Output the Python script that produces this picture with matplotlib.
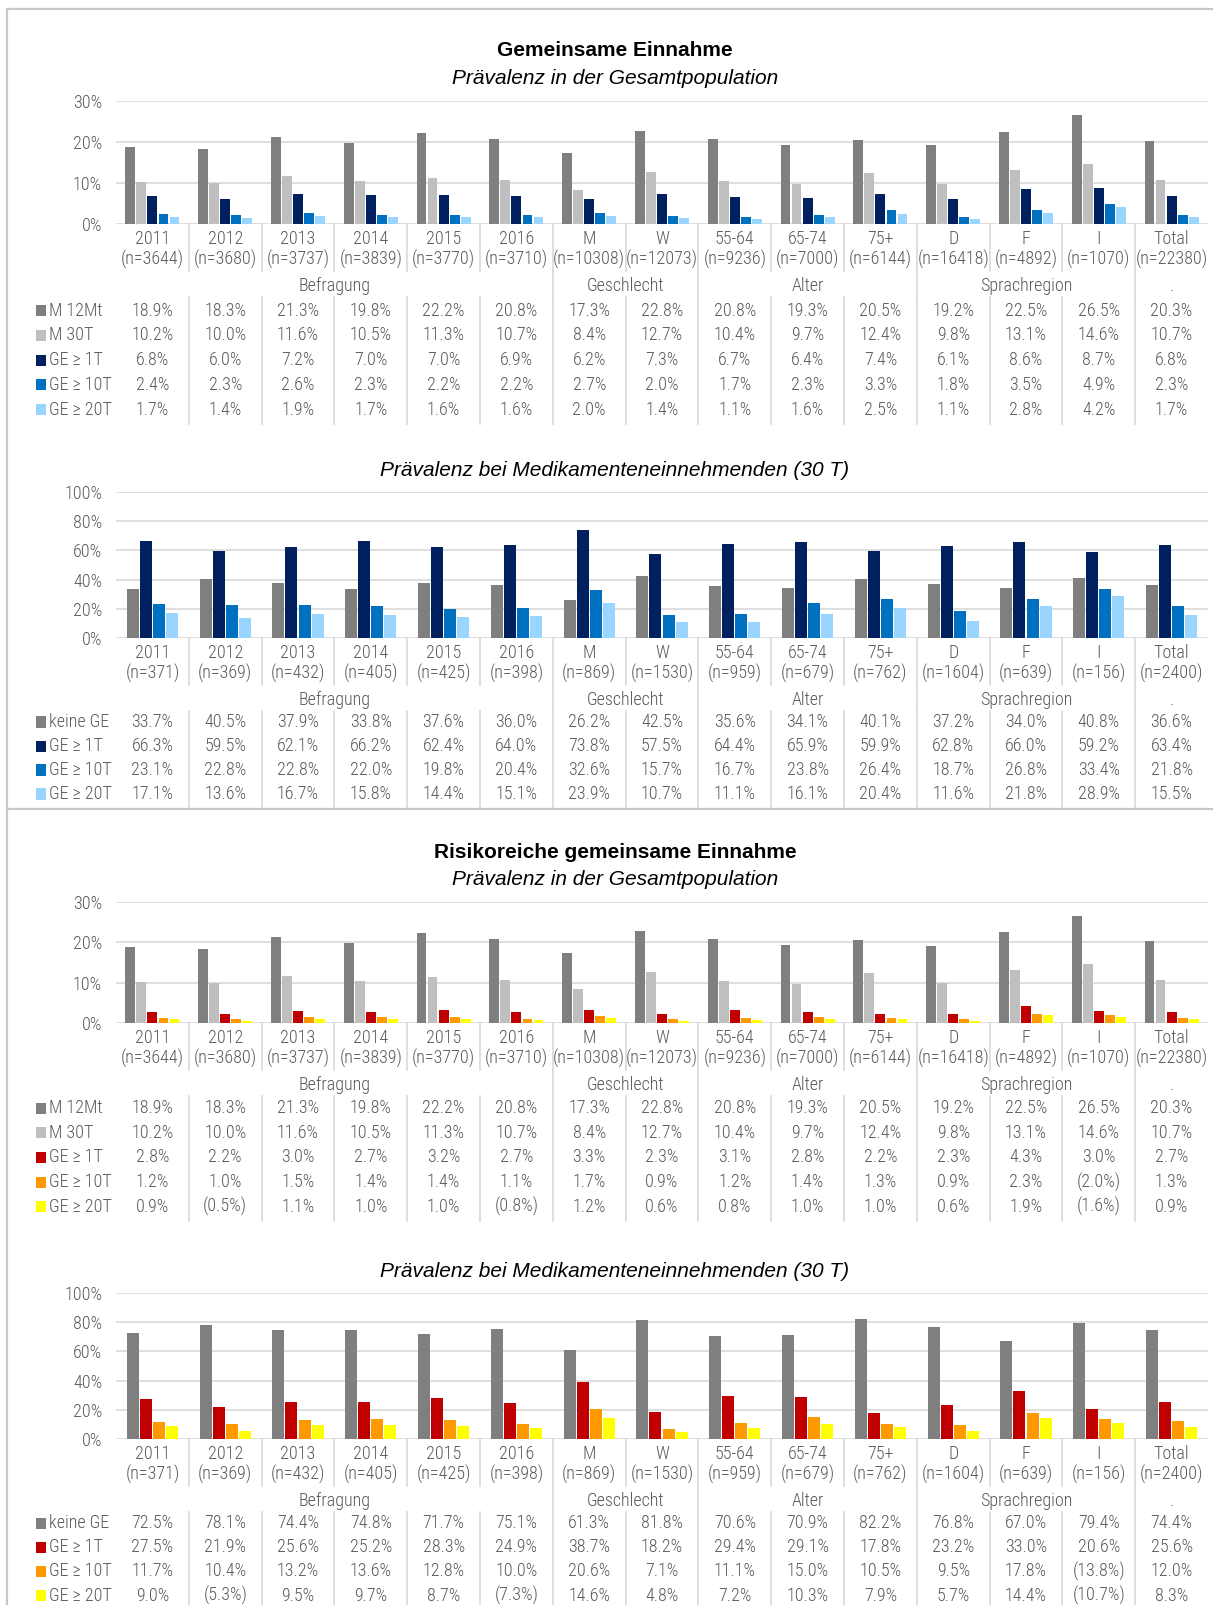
import matplotlib
matplotlib.use("Agg")
import matplotlib.pyplot as plt
from matplotlib import font_manager
from matplotlib.patches import Rectangle
from matplotlib.lines import Line2D
from matplotlib.transforms import blended_transform_factory

W, H = 1213, 1605

categories = ["2011", "2012", "2013", "2014", "2015", "2016", "M", "W",
              "55-64", "65-74", "75+", "D", "F", "I", "Total"]
n_pop = [3644, 3680, 3737, 3839, 3770, 3710, 10308, 12073,
         9236, 7000, 6144, 16418, 4892, 1070, 22380]
n_med = [371, 369, 432, 405, 425, 398, 869, 1530,
         959, 679, 762, 1604, 639, 156, 2400]
groups = [("Befragung", 0, 6), ("Geschlecht", 6, 8), ("Alter", 8, 11),
          ("Sprachregion", 11, 14), (".", 14, 15)]

# Gemeinsame Einnahme - Gesamtpopulation
m12 = [18.9, 18.3, 21.3, 19.8, 22.2, 20.8, 17.3, 22.8, 20.8, 19.3, 20.5, 19.2, 22.5, 26.5, 20.3]
m30 = [10.2, 10.0, 11.6, 10.5, 11.3, 10.7, 8.4, 12.7, 10.4, 9.7, 12.4, 9.8, 13.1, 14.6, 10.7]
ge1_pop = [6.8, 6.0, 7.2, 7.0, 7.0, 6.9, 6.2, 7.3, 6.7, 6.4, 7.4, 6.1, 8.6, 8.7, 6.8]
ge10_pop = [2.4, 2.3, 2.6, 2.3, 2.2, 2.2, 2.7, 2.0, 1.7, 2.3, 3.3, 1.8, 3.5, 4.9, 2.3]
ge20_pop = [1.7, 1.4, 1.9, 1.7, 1.6, 1.6, 2.0, 1.4, 1.1, 1.6, 2.5, 1.1, 2.8, 4.2, 1.7]

# Gemeinsame Einnahme - Medikamenteneinnehmende
keine_med = [33.7, 40.5, 37.9, 33.8, 37.6, 36.0, 26.2, 42.5, 35.6, 34.1, 40.1, 37.2, 34.0, 40.8, 36.6]
ge1_med = [66.3, 59.5, 62.1, 66.2, 62.4, 64.0, 73.8, 57.5, 64.4, 65.9, 59.9, 62.8, 66.0, 59.2, 63.4]
ge10_med = [23.1, 22.8, 22.8, 22.0, 19.8, 20.4, 32.6, 15.7, 16.7, 23.8, 26.4, 18.7, 26.8, 33.4, 21.8]
ge20_med = [17.1, 13.6, 16.7, 15.8, 14.4, 15.1, 23.9, 10.7, 11.1, 16.1, 20.4, 11.6, 21.8, 28.9, 15.5]

# Risikoreiche gemeinsame Einnahme - Gesamtpopulation
rge1_pop = [2.8, 2.2, 3.0, 2.7, 3.2, 2.7, 3.3, 2.3, 3.1, 2.8, 2.2, 2.3, 4.3, 3.0, 2.7]
rge10_pop = [1.2, 1.0, 1.5, 1.4, 1.4, 1.1, 1.7, 0.9, 1.2, 1.4, 1.3, 0.9, 2.3, 2.0, 1.3]
rge20_pop = [0.9, 0.5, 1.1, 1.0, 1.0, 0.8, 1.2, 0.6, 0.8, 1.0, 1.0, 0.6, 1.9, 1.6, 0.9]
# cells shown in brackets (row in table, column)
rpop_paren = [(3, 13), (4, 1), (4, 5), (4, 13)]

# Risikoreiche gemeinsame Einnahme - Medikamenteneinnehmende
rkeine_med = [72.5, 78.1, 74.4, 74.8, 71.7, 75.1, 61.3, 81.8, 70.6, 70.9, 82.2, 76.8, 67.0, 79.4, 74.4]
rge1_med = [27.5, 21.9, 25.6, 25.2, 28.3, 24.9, 38.7, 18.2, 29.4, 29.1, 17.8, 23.2, 33.0, 20.6, 25.6]
rge10_med = [11.7, 10.4, 13.2, 13.6, 12.8, 10.0, 20.6, 7.1, 11.1, 15.0, 10.5, 9.5, 17.8, 13.8, 12.0]
rge20_med = [9.0, 5.3, 9.5, 9.7, 8.7, 7.3, 14.6, 4.8, 7.2, 10.3, 7.9, 5.7, 14.4, 10.7, 8.3]
rmed_paren = [(2, 13), (3, 1), (3, 5), (3, 13)]

GRAY, LGRAY = "#7f7f7f", "#bfbfbf"
NAVY, BLUE, LBLUE = "#002060", "#0070c0", "#99d5ff"
RED, ORANGE, YELLOW = "#c00000", "#ff9900", "#ffff00"
TXT = "#595959"
GRID = "#d9d9d9"

# narrow font like Arial Narrow, whatever is around
installed = {f.name for f in font_manager.fontManager.ttflist}
NARROW, FS, FW = ["DejaVu Sans"], 10, "normal"
for cand in ["Liberation Sans Narrow", "Arial Narrow", "Roboto Condensed",
             "Archivo Narrow", "PT Sans Narrow", "Pragati Narrow"]:
    if cand in installed:
        NARROW, FS, FW = [cand, "DejaVu Sans"], 13, "light"
        break
SANS = ["Liberation Sans", "Arimo", "DejaVu Sans"]

fig = plt.figure(figsize=(W / 100, H / 100), dpi=100)


def fy(y):
    return 1 - y / H


def fx(x):
    return x / W


def bar_block(top, zero, ymax, step, series, colors, names, ns, paren,
              width, pitch, row0, row_step):
    ax = fig.add_axes([fx(116), fy(zero), fx(1208) - fx(116), (zero - top) / H])
    k = len(series)
    for j, (vals, c) in enumerate(zip(series, colors)):
        off = (j - (k - 1) / 2) * pitch
        ax.bar([i + 0.5 + off for i in range(len(vals))], vals, width=width, color=c, zorder=2)
    ax.set_xlim(0, len(categories))
    ax.set_ylim(0, ymax)
    ax.set_yticks(range(0, ymax + 1, step))
    ax.set_yticklabels([f"{t}%" for t in range(0, ymax + 1, step)])
    for lbl in ax.get_yticklabels():
        lbl.set_family(NARROW)
        lbl.set_fontweight(FW)
    ax.tick_params(axis="y", length=0, pad=10, labelcolor=TXT, labelsize=FS)
    ax.set_xticks([])
    for s in ax.spines.values():
        s.set_visible(False)
    ax.grid(axis="y", color=GRID, lw=1.2)
    ax.set_axisbelow(True)

    tr = blended_transform_factory(ax.transData, fig.transFigure)
    kw = dict(transform=tr, ha="center", va="center", family=NARROW,
              fontsize=FS, fontweight=FW, color=TXT)

    def vline(x, y1, y2):
        ax.add_line(Line2D([x, x], [fy(y1), fy(y2)], transform=tr, color=GRID,
                           lw=1.2, clip_on=False))

    # category labels
    for i, (c, n) in enumerate(zip(categories, ns)):
        ax.text(i + 0.5, fy(zero + 15), c, **kw)
        ax.text(i + 0.5, fy(zero + 35.5), f"(n={n})", **kw)
    bounds = [g[2] for g in groups[:-1]]
    for b in range(1, len(categories)):
        vline(b, zero, zero + 47)
        if b in bounds:
            vline(b, zero + 47, zero + 73)
        vline(b, zero + 73, zero + row0 + row_step * (k - 1) + 14)
    for name, a, b in groups:
        ax.text((a + b) / 2, fy(zero + 62), name, **kw)

    # data table
    for j, (vals, c, nm) in enumerate(zip(series, colors, names)):
        y = zero + row0 + row_step * j
        fig.add_artist(Rectangle((fx(36), fy(y + 5.5)), 10 / W, 11 / H,
                                 transform=fig.transFigure, color=c, lw=0))
        fig.text(fx(49), fy(y), nm, ha="left", va="center", family=NARROW,
                 fontsize=FS, fontweight=FW, color=TXT)
        for i, v in enumerate(vals):
            s = f"{v:.1f}%"
            if (j, i) in paren:
                s = f"({s})"
            ax.text(i + 0.5, fy(y), s, **kw)
    return ax


def title(y, s, bold=False):
    fig.text(fx(615), fy(y), s, ha="center", va="center", family=SANS, fontsize=15,
             fontweight="bold" if bold else "normal", style="normal" if bold else "italic",
             color="black")


# frame
for xs, ys in [([7, 7], [9, H]), ([7, W], [9, 9]), ([7, W], [809, 809])]:
    fig.add_artist(Line2D([fx(x) for x in xs], [fy(y) for y in ys],
                          transform=fig.transFigure, color="#c8c8c8", lw=1.6))

title(51, "Gemeinsame Einnahme", bold=True)
title(78.5, "Prävalenz in der Gesamtpopulation")
bar_block(101, 224, 30, 10, [m12, m30, ge1_pop, ge10_pop, ge20_pop],
          [GRAY, LGRAY, NAVY, BLUE, LBLUE],
          ["M 12Mt", "M 30T", "GE ≥ 1T", "GE ≥ 10T", "GE ≥ 20T"], n_pop, [],
          0.135, 0.152, 86.5, 24.8)

title(470.5, "Prävalenz bei Medikamenteneinnehmenden (30 T)")
bar_block(492, 638, 100, 20, [keine_med, ge1_med, ge10_med, ge20_med],
          [GRAY, NAVY, BLUE, LBLUE],
          ["keine GE", "GE ≥ 1T", "GE ≥ 10T", "GE ≥ 20T"], n_med, [],
          0.165, 0.18, 84, 24)

title(853, "Risikoreiche gemeinsame Einnahme", bold=True)
title(879.5, "Prävalenz in der Gesamtpopulation")
bar_block(902, 1023, 30, 10, [m12, m30, rge1_pop, rge10_pop, rge20_pop],
          [GRAY, LGRAY, RED, ORANGE, YELLOW],
          ["M 12Mt", "M 30T", "GE ≥ 1T", "GE ≥ 10T", "GE ≥ 20T"], n_pop, rpop_paren,
          0.135, 0.152, 85, 24.7)

title(1271.5, "Prävalenz bei Medikamenteneinnehmenden (30 T)")
bar_block(1293, 1439, 100, 20, [rkeine_med, rge1_med, rge10_med, rge20_med],
          [GRAY, RED, ORANGE, YELLOW],
          ["keine GE", "GE ≥ 1T", "GE ≥ 10T", "GE ≥ 20T"], n_med, rmed_paren,
          0.165, 0.18, 84, 24.2)

fig.savefig("out.png", dpi=100, facecolor="white")
